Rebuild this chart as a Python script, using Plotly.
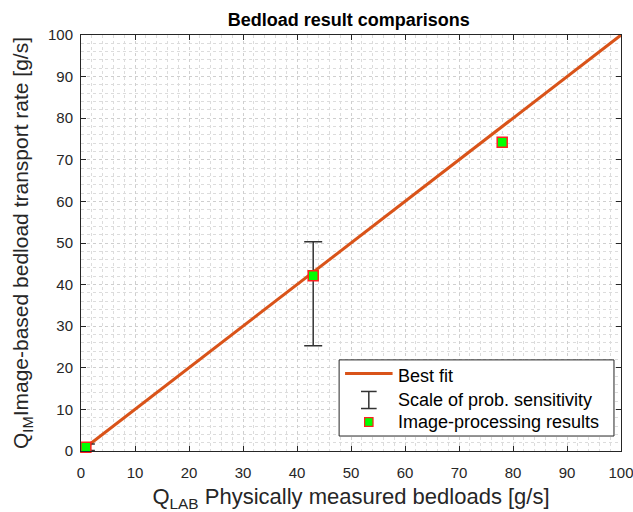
import plotly.graph_objects as go

# Data
fit_x = [0, 100]
fit_y = [0, 100]
lab_q = [0.9, 43.0, 78.0]          # Q_LAB physically measured [g/s]
im_q = [0.9, 42.1, 74.2]           # Q_IM image-based [g/s]
# sensitivity scale (error bars) only for the first two results
err_x = [0.9, 43.0]
err_y = [0.9, 42.1]
err_plus = [0.8, 8.2]
err_minus = [0.8, 16.8]
ticks = [0, 10, 20, 30, 40, 50, 60, 70, 80, 90, 100]

legend_labels = ["Best fit", "Scale of prob. sensitivity", "Image-processing results"]

FONT = "Liberation Sans, Arial, Helvetica, sans-serif"
ORANGE = "#D95319"
AXC = "#262626"

fig = go.Figure()
fig.add_trace(go.Scatter(x=fit_x, y=fit_y, mode="lines",
                         line=dict(color=ORANGE, width=3), showlegend=False,
                         cliponaxis=False))
fig.add_trace(go.Scatter(x=err_x, y=err_y, mode="markers",
                         marker=dict(size=1, color="rgba(0,0,0,0)"),
                         error_y=dict(type="data", symmetric=False, array=err_plus,
                                      arrayminus=err_minus, color="#333333",
                                      thickness=1.5, width=9),
                         showlegend=False, cliponaxis=False))
fig.add_trace(go.Scatter(x=lab_q, y=im_q, mode="markers",
                         marker=dict(symbol="square", size=10, color="#00FF00",
                                     line=dict(color="#FF2020", width=1.5)),
                         showlegend=False, cliponaxis=False))

axis_common = dict(
    range=[0, 100], tickvals=ticks, ticks="inside", ticklen=5, tickwidth=1,
    tickcolor=AXC, showline=True, linecolor=AXC, linewidth=1, mirror="allticks",
    showgrid=True, gridcolor="#cfcfcf", griddash="dot", gridwidth=1,
    minor=dict(dtick=2, showgrid=True, gridcolor="#dcdcdc", griddash="dot",
               gridwidth=1, ticks=""),
    tickfont=dict(family=FONT, size=15, color=AXC), zeroline=False,
    automargin=False, ticklabeloverflow="allow",
)

fig.update_xaxes(**axis_common, ticklabelstandoff=8,
                 title=dict(text="Q<sub>LAB</sub> Physically measured bedloads [g/s]",
                            font=dict(family=FONT, size=22, color=AXC), standoff=10))
fig.update_yaxes(**axis_common, ticklabelstandoff=4,
                 title=dict(text="Q<sub>IM</sub>Image-based bedload transport rate [g/s]",
                            font=dict(family=FONT, size=21, color=AXC), standoff=13))

# Custom legend (paper coordinates)
L, R, B, T = 0.478, 0.987, 0.036, 0.219
shapes = [
    dict(type="rect", xref="paper", yref="paper", x0=L, x1=R, y0=B, y1=T,
         line=dict(color=AXC, width=1), fillcolor="white", layer="above"),
]
row_y = [0.180, 0.1226, 0.0697]
# line sample
shapes.append(dict(type="line", xref="paper", yref="paper", x0=0.489, x1=0.577,
                   y0=0.186, y1=0.186, line=dict(color=ORANGE, width=3),
                   layer="above"))
# error bar glyph
cx = 0.533
hh = 0.0205
cw = 0.0145
shapes += [
    dict(type="line", xref="paper", yref="paper", x0=cx, x1=cx, y0=row_y[1] - hh,
         y1=row_y[1] + hh, line=dict(color="#333333", width=1.5), layer="above"),
    dict(type="line", xref="paper", yref="paper", x0=cx - cw, x1=cx + cw,
         y0=row_y[1] + hh, y1=row_y[1] + hh, line=dict(color="#333333", width=1.5), layer="above"),
    dict(type="line", xref="paper", yref="paper", x0=cx - cw, x1=cx + cw,
         y0=row_y[1] - hh, y1=row_y[1] - hh, line=dict(color="#333333", width=1.5), layer="above"),
    dict(type="rect", xref="paper", yref="paper", x0=cx - 0.0078, x1=cx + 0.0078,
         y0=row_y[2] - 0.0105, y1=row_y[2] + 0.0105, fillcolor="#00FF00",
         line=dict(color="#FF2020", width=1.2), layer="above"),
]
annotations = []
for lab, yy in zip(legend_labels, row_y):
    annotations.append(dict(xref="paper", yref="paper", x=0.584, y=yy, text=lab,
                            showarrow=False, xanchor="left", yanchor="middle",
                            font=dict(family=FONT, size=18, color="black")))

fig.update_layout(
    width=633, height=512,
    margin=dict(l=81, r=12, t=35, b=61),
    paper_bgcolor="white", plot_bgcolor="white",
    title=dict(text="<b>Bedload result comparisons</b>", x=0.551, xanchor="center",
               y=0.961, yanchor="middle", font=dict(family=FONT, size=18, color="black")),
    shapes=shapes, annotations=annotations, showlegend=False,
)

fig.write_html("out.html", config={"displayModeBar": False},
               post_script="document.body.style.margin='0px';")
